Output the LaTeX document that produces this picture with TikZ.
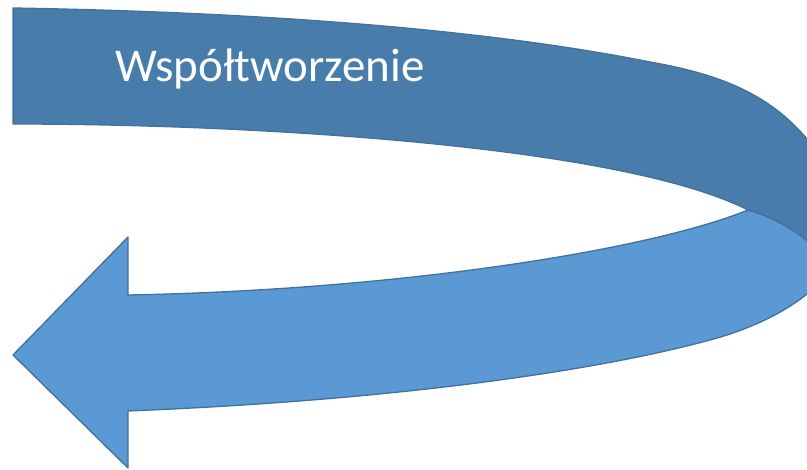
\documentclass[tikz,border=0pt]{standalone}
\usepackage{fontspec}
\setmainfont{Carlito}
\usepackage{tikz}
\usetikzlibrary{positioning}

\definecolor{bandback}{HTML}{487DAB}
\definecolor{bandfront}{HTML}{5A99D4}
\definecolor{bandline}{HTML}{41719C}

\begin{document}
\begin{tikzpicture}[x=1pt, y=-1pt,
    band/.style={draw=bandline, line width=1.3pt, line join=round}]
    \useasboundingbox (0,0) rectangle (807,470);
    \clip (0,0) rectangle (807,470);

    % back part of the u-turn (top band)
    \filldraw[band, fill=bandback] (13,8)
      .. controls (250,12) and (480,28) .. (650,62)
      .. controls (730,76) and (785,100) .. (826,165)
      -- (840,220) -- (830,265)
      .. controls (812,240) and (782,220) .. (748,210)
      .. controls (620,145) and (250,124) .. (13,124)
      -- cycle;

    % front part with the arrow head
    \filldraw[band, fill=bandfront] (128,295)
      .. controls (400,290) and (650,250) .. (748,210)
      .. controls (782,220) and (812,240) .. (830,265)
      -- (830,268)
      .. controls (815,295) and (770,324) .. (710,340)
      .. controls (600,370) and (400,400) .. (128,411)
      -- (128,468) -- (13,355) -- (128,237) -- cycle;

    \node[anchor=base west, inner sep=0pt, text=white,
          font=\fontsize{47}{56}\selectfont] (label) at (115,82) {Współtworzenie};
\end{tikzpicture}
\end{document}
